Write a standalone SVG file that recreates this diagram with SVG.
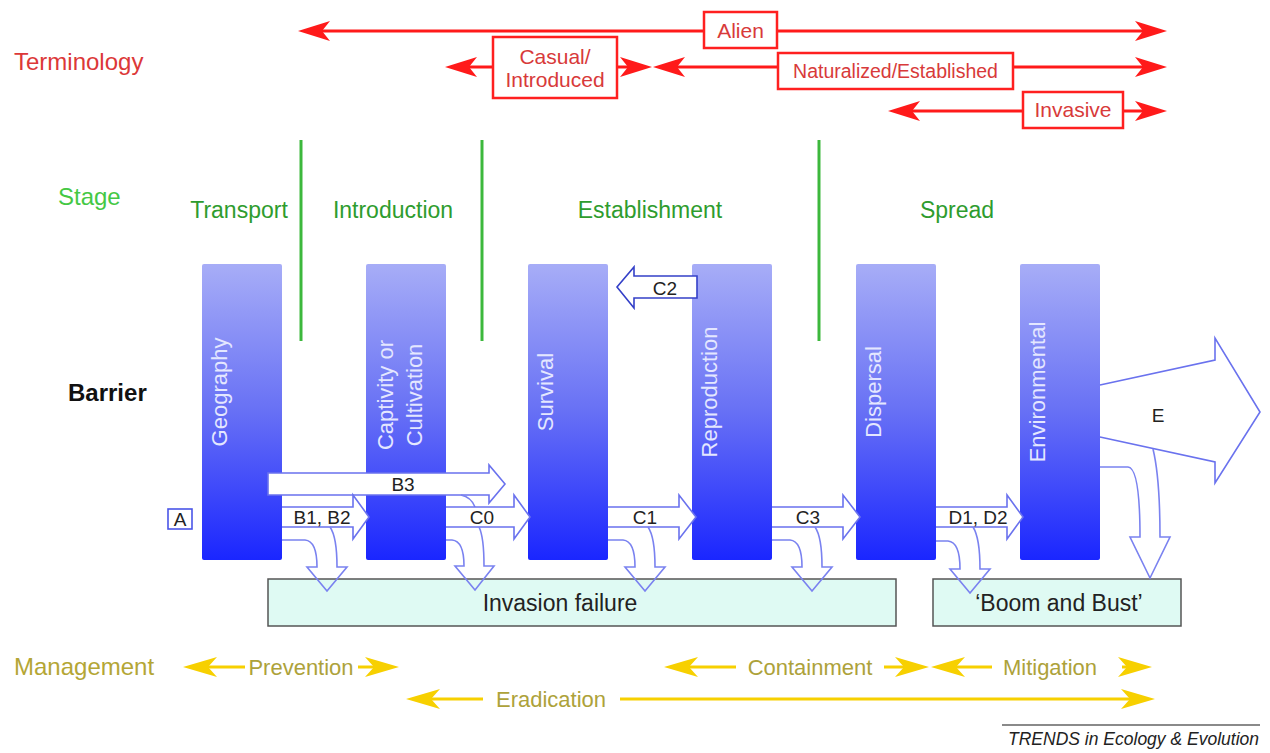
<svg xmlns="http://www.w3.org/2000/svg" width="1270" height="753" viewBox="0 0 1270 753">
<defs>
<linearGradient id="barGrad" x1="0" y1="0" x2="0" y2="1">
<stop offset="0" stop-color="#a7adf7"/>
<stop offset="0.5" stop-color="#6770f5"/>
<stop offset="1" stop-color="#1a26ff"/>
</linearGradient>
<marker id="redHead" viewBox="0 0 32 22" refX="22" refY="11" markerWidth="32" markerHeight="22" markerUnits="userSpaceOnUse" orient="auto-start-reverse">
<path d="M32,11 L0,1 L8,11 L0,21 Z" fill="#ff1a1a"/>
</marker>
<marker id="yelHead" viewBox="0 0 34 22" refX="24" refY="11" markerWidth="34" markerHeight="22" markerUnits="userSpaceOnUse" orient="auto-start-reverse">
<path d="M34,11 L0,1 L9,11 L0,21 Z" fill="#f7d000"/>
</marker>
<style>
.lbl{font-family:"Liberation Sans",Arial,sans-serif;}
.side{font-size:24px;}
.red{fill:#dc3838;}
.stage{font-size:23px;fill:#2e9c2e;text-anchor:middle;}
.gline{stroke:#3cb83c;stroke-width:3;}
.bar{fill:url(#barGrad);}
.bartxt{font-size:22px;fill:#e4e7ff;text-anchor:middle;}
.rline{stroke:#ff1a1a;stroke-width:3;fill:none;}
.rbox{fill:#ffffff;stroke:#ff2020;stroke-width:2.5;}
.rtxt{font-size:21px;fill:#d83a3a;text-anchor:middle;}
.yline{stroke:#f7d000;stroke-width:3;fill:none;}
.ytxt{font-size:22px;fill:#ada23a;text-anchor:middle;}
.blk{fill:#ffffff;stroke:#6a72ee;stroke-width:1.6;stroke-linejoin:miter;}
.fail{fill:none;stroke:#7a82f0;stroke-width:1.6;}
.ctxt{font-size:19px;fill:#222222;text-anchor:middle;}
.box{fill:#dffaf3;stroke:#555555;stroke-width:1.5;}
.btxt{font-size:23px;fill:#222222;text-anchor:middle;}
</style>
</defs>
<rect width="1270" height="753" fill="#ffffff"/>

<g id="row-labels" class="lbl">
<text class="side red" x="14" y="70">Terminology</text>
<text class="side" x="58" y="205" fill="#44c844">Stage</text>
<text class="side" x="68" y="401" font-weight="bold" fill="#111111">Barrier</text>
<text class="side" x="14" y="675" fill="#b4a635">Management</text>
</g>

<g id="terminology">
<g id="alien">
<line class="rline" x1="308" y1="31" x2="1157" y2="31" marker-start="url(#redHead)" marker-end="url(#redHead)"/>
<rect class="rbox" x="704" y="12" width="73" height="36"/>
<text class="lbl rtxt" x="740.5" y="38">Alien</text>
</g>
<g id="casual">
<line class="rline" x1="455" y1="67" x2="642" y2="67" marker-start="url(#redHead)" marker-end="url(#redHead)"/>
<rect class="rbox" x="493" y="37" width="124" height="61"/>
<text class="lbl rtxt" x="555" y="64">Casual/</text>
<text class="lbl rtxt" x="555" y="87">Introduced</text>
</g>
<g id="naturalized">
<line class="rline" x1="663" y1="67" x2="1157" y2="67" marker-start="url(#redHead)" marker-end="url(#redHead)"/>
<rect class="rbox" x="778" y="53" width="235" height="36"/>
<text class="lbl rtxt" x="895.5" y="78" style="font-size:19.5px">Naturalized/Established</text>
</g>
<g id="invasive">
<line class="rline" x1="898" y1="111" x2="1157" y2="111" marker-start="url(#redHead)" marker-end="url(#redHead)"/>
<rect class="rbox" x="1023" y="92" width="100" height="36"/>
<text class="lbl rtxt" x="1073" y="117">Invasive</text>
</g>
</g>

<g id="stages">
<line class="gline" x1="301" y1="140" x2="301" y2="341"/>
<line class="gline" x1="482" y1="140" x2="482" y2="341"/>
<line class="gline" x1="819" y1="140" x2="819" y2="341"/>
<text class="lbl stage" x="239" y="218">Transport</text>
<text class="lbl stage" x="393" y="218">Introduction</text>
<text class="lbl stage" x="650" y="218">Establishment</text>
<text class="lbl stage" x="957" y="218">Spread</text>
</g>

<g id="barrier-geography">
<rect class="bar" x="202" y="264" width="80" height="296" rx="2"/>
<text class="lbl bartxt" transform="translate(227,392) rotate(-90)">Geography</text>
</g>
<g id="barrier-captivity">
<rect class="bar" x="366" y="264" width="80" height="296" rx="2"/>
<text class="lbl bartxt" transform="translate(393,395) rotate(-90)">Captivity or</text>
<text class="lbl bartxt" transform="translate(422,395) rotate(-90)">Cultivation</text>
</g>
<g id="barrier-survival">
<rect class="bar" x="528" y="264" width="80" height="296" rx="2"/>
<text class="lbl bartxt" transform="translate(553,392) rotate(-90)">Survival</text>
</g>
<g id="barrier-reproduction">
<rect class="bar" x="692" y="264" width="80" height="296" rx="2"/>
<text class="lbl bartxt" transform="translate(717,392) rotate(-90)">Reproduction</text>
</g>
<g id="barrier-dispersal">
<rect class="bar" x="856" y="264" width="80" height="296" rx="2"/>
<text class="lbl bartxt" transform="translate(881,392) rotate(-90)">Dispersal</text>
</g>
<g id="barrier-environmental">
<rect class="bar" x="1020" y="264" width="80" height="296" rx="2"/>
<text class="lbl bartxt" transform="translate(1045,392) rotate(-90)">Environmental</text>
</g>

<g id="outcome-failure">
<rect class="box" x="268" y="579" width="628" height="47"/>
<text class="lbl btxt" x="560" y="611">Invasion failure</text>
</g>
<g id="outcome-boom">
<rect class="box" x="933" y="579" width="248" height="47"/>
<text class="lbl btxt" x="1059" y="611">‘Boom and Bust’</text>
</g>

<g id="connectors">
<path class="blk" d="M268,473 L489,473 L489,465 L505,484 L489,503 L489,495 L268,495 Z"/>
<path class="fail" d="M461,495 Q471,497 475,507"/>
<path class="blk" d="M282,507 L353,507 L353,495 L369,517 L353,539 L353,527 L282,527"/>
<path class="blk" d="M446,507 L514,507 L514,495 L530,517 L514,539 L514,527 L446,527"/>
<path class="blk" d="M608,507 L679,507 L679,495 L696,517 L679,539 L679,527 L608,527"/>
<path class="blk" d="M772,507 L843,507 L843,495 L860,517 L843,539 L843,527 L772,527"/>
<path class="blk" d="M936,507 L1007,507 L1007,495 L1023,517 L1007,539 L1007,527 L936,527"/>
<path class="blk" d="M617,287 L634,267 L634,276 L697,276 L697,298 L634,298 L634,308 Z" style="stroke:#3440c8"/>
<path class="blk" d="M1100,385 L1215,360 L1215,338 L1260,412 L1215,483 L1215,462 L1100,437"/>
<path class="fail" d="M282,540 L305,540 Q317,541 317,567 L307,567 L327,591 L347,567 L337,567 Q337,537 330,527"/>
<path class="fail" d="M446,540 L452,540 Q464,541 464,566 L455,566 L475,590 L494,566 L484,566 Q484,537 479,527"/>
<path class="fail" d="M608,540 L623,540 Q635,541 635,567 L625,567 L645,591 L665,567 L655,567 Q655,537 648,527"/>
<path class="fail" d="M772,540 L790,540 Q802,541 802,567 L792,567 L812,591 L832,567 L822,567 Q822,537 815,527"/>
<path class="fail" d="M936,541 L948,541 Q960,542 960,569 L950,569 L970,593 L990,569 L980,569 Q980,538 973,527"/>
<path class="fail" d="M1100,467 L1128,467 Q1140,468 1140,537 L1130,537 L1150,578 L1170,537 L1160,537 Q1160,478 1153,449"/>
<rect x="168" y="509" width="24" height="20" fill="#ffffff" stroke="#4a55e8" stroke-width="1.6"/>
<g class="lbl">
<text class="ctxt" x="180" y="526">A</text>
<text class="ctxt" x="403" y="491">B3</text>
<text class="ctxt" x="322" y="524">B1, B2</text>
<text class="ctxt" x="482" y="524">C0</text>
<text class="ctxt" x="645" y="524">C1</text>
<text class="ctxt" x="808" y="524">C3</text>
<text class="ctxt" x="978" y="524">D1, D2</text>
<text class="ctxt" x="665" y="295">C2</text>
<text class="ctxt" x="1158" y="422">E</text>
</g>
</g>

<g id="management">
<g id="prevention">
<line class="yline" x1="193" y1="667" x2="245" y2="667" marker-start="url(#yelHead)"/>
<line class="yline" x1="358" y1="667" x2="389" y2="667" marker-end="url(#yelHead)"/>
<text class="lbl ytxt" x="301" y="675">Prevention</text>
</g>
<g id="containment">
<line class="yline" x1="674" y1="667" x2="736" y2="667" marker-start="url(#yelHead)"/>
<line class="yline" x1="884" y1="667" x2="919" y2="667" marker-end="url(#yelHead)"/>
<text class="lbl ytxt" x="810" y="675">Containment</text>
</g>
<g id="mitigation">
<line class="yline" x1="941" y1="667" x2="992" y2="667" marker-start="url(#yelHead)"/>
<line class="yline" x1="1122" y1="667" x2="1142" y2="667" marker-end="url(#yelHead)"/>
<text class="lbl ytxt" x="1050" y="675">Mitigation</text>
</g>
<g id="eradication">
<line class="yline" x1="416" y1="699" x2="483" y2="699" marker-start="url(#yelHead)"/>
<line class="yline" x1="620" y1="699" x2="1145" y2="699" marker-end="url(#yelHead)"/>
<text class="lbl ytxt" x="551" y="707">Eradication</text>
</g>
</g>

<g id="credit">
<line x1="1002" y1="725" x2="1260" y2="725" stroke="#8a8a8a" stroke-width="2"/>
<text class="lbl" x="1259" y="745" text-anchor="end" font-size="17.5" font-style="italic" fill="#222222">TRENDS in Ecology &amp; Evolution</text>
</g>
</svg>
